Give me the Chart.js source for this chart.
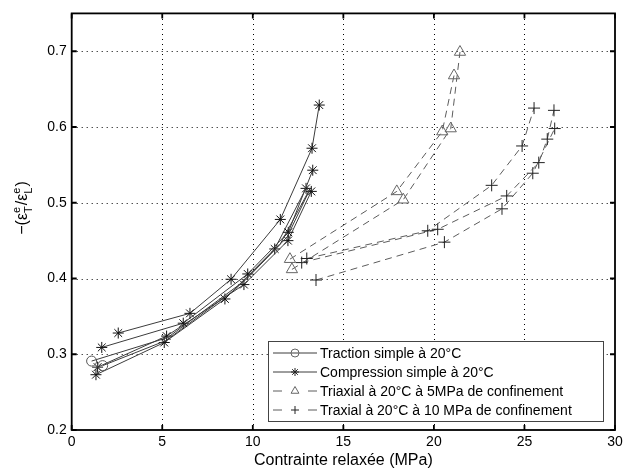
<!DOCTYPE html>
<html>
<head>
<meta charset="utf-8">
<script src="https://cdn.jsdelivr.net/npm/chart.js@4"></script>
<style>
  body { margin: 0; background: #fff; }
  #wrap { width: 632px; height: 472px; }
</style>
</head>
<body>
<div id="wrap"><canvas id="ratioChart" width="632" height="472"></canvas></div>
<script>
const xTicks = [0, 5, 10, 15, 20, 25, 30];
const yTicks = [0.2, 0.3, 0.4, 0.5, 0.6, 0.7];

const seriesNames = [
    "Traction simple à 20°C",
    "Compression simple à 20°C",
    "Triaxial à 20°C à 5MPa de confinement",
    "Traxial à 20°C à 10 MPa de confinement"
];

// traction simple (circles)
const tractionX1 = [1.10, 5.30, 9.60, 11.90, 13.16];
const tractionY1 = [0.291, 0.322, 0.398, 0.455, 0.518];
const tractionX2 = [1.71, 5.20, 9.00, 11.50, 13.10];
const tractionY2 = [0.285, 0.318, 0.385, 0.445, 0.516];

// compression simple (stars)
const compX1 = [2.57, 6.53, 8.80, 11.52, 13.27, 13.67];
const compY1 = [0.328, 0.354, 0.399, 0.478, 0.572, 0.629];
const compX2 = [1.66, 6.16, 9.72, 11.96, 13.31];
const compY2 = [0.309, 0.341, 0.406, 0.461, 0.543];
const compX3 = [1.43, 5.24, 9.51, 11.94, 13.23];
const compY3 = [0.283, 0.324, 0.392, 0.450, 0.515];
const compX4 = [1.34, 5.11, 8.46, 11.21, 12.94];
const compY4 = [0.273, 0.3155, 0.373, 0.439, 0.519];

// triaxial 5 MPa (triangles)
const tri5X1 = [12.05, 17.95, 20.46, 21.11];
const tri5Y1 = [0.4255, 0.515, 0.594, 0.668];
const tri5X2 = [12.16, 18.31, 20.93, 21.44];
const tri5Y2 = [0.412, 0.504, 0.598, 0.699];

// triaxial 10 MPa (plus)
const tri10X1 = [12.98, 19.66, 23.19, 24.87, 25.53];
const tri10Y1 = [0.4264, 0.463, 0.523, 0.575, 0.625];
const tri10X2 = [12.70, 20.21, 24.02, 25.79, 26.26, 26.63];
const tri10Y2 = [0.421, 0.465, 0.509, 0.553, 0.584, 0.622];
const tri10X3 = [13.49, 20.58, 23.76, 25.46, 26.67];
const tri10Y3 = [0.398, 0.448, 0.492, 0.539, 0.598];

function pts(xs, ys) {
    return xs.map((x, i) => ({ x: x, y: ys[i] }));
}

const solidColor = "#3c3c3c";
const dashColor = "#5c5c5c";

function tractionSet(xs, ys) {
    return {
        label: seriesNames[0],
        data: pts(xs, ys),
        borderColor: solidColor,
        borderWidth: 1,
        pointStyle: "circle",
        pointRadius: xs.map((x, i) => i === 0 ? 5 : 0),
        pointBorderColor: "#555",
        pointBackgroundColor: "rgba(0,0,0,0)",
        pointBorderWidth: 1
    };
}
function compSet(xs, ys) {
    return {
        label: seriesNames[1],
        data: pts(xs, ys),
        borderColor: solidColor,
        borderWidth: 1,
        pointStyle: "star",
        pointRadius: 5.5,
        pointBorderColor: "#111",
        pointBorderWidth: 1
    };
}
function tri5Set(xs, ys) {
    return {
        label: seriesNames[2],
        data: pts(xs, ys),
        borderColor: dashColor,
        borderWidth: 1,
        borderDash: [7, 5],
        pointStyle: "triangle",
        pointRadius: 6.5,
        pointBorderColor: "#666",
        pointBackgroundColor: "rgba(0,0,0,0)",
        pointBorderWidth: 1
    };
}
function tri10Set(xs, ys) {
    return {
        label: seriesNames[3],
        data: pts(xs, ys),
        borderColor: dashColor,
        borderWidth: 1,
        borderDash: [7, 5],
        pointStyle: "cross",
        pointRadius: 6,
        pointBorderColor: "#222",
        pointBorderWidth: 1
    };
}

const datasets = [
    tractionSet(tractionX1, tractionY1),
    tractionSet(tractionX2, tractionY2),
    compSet(compX1, compY1),
    compSet(compX2, compY2),
    compSet(compX3, compY3),
    compSet(compX4, compY4),
    tri5Set(tri5X1, tri5Y1),
    tri5Set(tri5X2, tri5Y2),
    tri10Set(tri10X1, tri10Y1),
    tri10Set(tri10X2, tri10Y2),
    tri10Set(tri10X3, tri10Y3)
];

function drawMarker(ctx, style, x, y, r) {
    ctx.beginPath();
    if (style === "circle") {
        ctx.arc(x, y, r, 0, Math.PI * 2);
    } else if (style === "star") {
        ctx.moveTo(x - r, y); ctx.lineTo(x + r, y);
        ctx.moveTo(x, y - r); ctx.lineTo(x, y + r);
        const d = r * 0.7;
        ctx.moveTo(x - d, y - d); ctx.lineTo(x + d, y + d);
        ctx.moveTo(x - d, y + d); ctx.lineTo(x + d, y - d);
    } else if (style === "triangle") {
        ctx.moveTo(x, y - r);
        ctx.lineTo(x + r * 0.87, y + r * 0.5);
        ctx.lineTo(x - r * 0.87, y + r * 0.5);
        ctx.closePath();
    } else if (style === "cross") {
        ctx.moveTo(x - r, y); ctx.lineTo(x + r, y);
        ctx.moveTo(x, y - r); ctx.lineTo(x, y + r);
    }
    ctx.stroke();
}

// dotted grid, frame, inward ticks, legend box and y title like the matlab figure
const matlabLook = {
    id: "matlabLook",
    beforeDatasetsDraw(chart) {
        const ctx = chart.ctx;
        const a = chart.chartArea;
        const xs = chart.scales.x, ys = chart.scales.y;
        ctx.save();
        ctx.strokeStyle = "#000";
        ctx.lineWidth = 1;
        ctx.setLineDash([1, 4]);
        ctx.beginPath();
        xTicks.slice(1, -1).forEach(v => {
            const px = Math.round(xs.getPixelForValue(v)) + 0.5;
            ctx.moveTo(px, a.bottom); ctx.lineTo(px, a.top);
        });
        yTicks.slice(1).forEach(v => {
            const py = Math.round(ys.getPixelForValue(v)) + 0.5;
            ctx.moveTo(a.left, py); ctx.lineTo(a.right, py);
        });
        ctx.stroke();
        ctx.restore();
    },
    afterDraw(chart) {
        const ctx = chart.ctx;
        const a = chart.chartArea;
        const xs = chart.scales.x, ys = chart.scales.y;
        ctx.save();

        // frame
        ctx.strokeStyle = "#000";
        ctx.lineWidth = 1.8;
        ctx.setLineDash([]);
        ctx.strokeRect(a.left, a.top, a.right - a.left, a.bottom - a.top);

        // inward ticks
        ctx.beginPath();
        xTicks.forEach(v => {
            const px = xs.getPixelForValue(v);
            ctx.moveTo(px, a.bottom); ctx.lineTo(px, a.bottom - 5);
            ctx.moveTo(px, a.top); ctx.lineTo(px, a.top + 5);
        });
        yTicks.forEach(v => {
            const py = ys.getPixelForValue(v);
            ctx.moveTo(a.left, py); ctx.lineTo(a.left + 5, py);
            ctx.moveTo(a.right, py); ctx.lineTo(a.right - 5, py);
        });
        ctx.stroke();

        // legend
        const bx = 268.5, by = 341.5, bw = 335, bh = 80;
        ctx.fillStyle = "#fff";
        ctx.fillRect(bx, by, bw, bh);
        ctx.strokeStyle = "#444";
        ctx.lineWidth = 1;
        ctx.strokeRect(bx, by, bw, bh);

        const rows = [353, 372, 391, 410];
        const styles = ["circle", "star", "triangle", "cross"];
        ctx.font = "14px 'Liberation Sans', Arial, sans-serif";
        ctx.textBaseline = "middle";
        ctx.textAlign = "left";
        rows.forEach((ry, i) => {
            ctx.strokeStyle = i < 2 ? solidColor : dashColor;
            ctx.lineWidth = 1;
            ctx.beginPath();
            if (i < 2) {
                ctx.moveTo(273, ry); ctx.lineTo(317, ry);
            } else {
                ctx.moveTo(273, ry); ctx.lineTo(282, ry);
                ctx.moveTo(308, ry); ctx.lineTo(317, ry);
            }
            ctx.stroke();
            ctx.strokeStyle = i === 0 || i === 2 ? "#666" : "#222";
            drawMarker(ctx, styles[i], 295, ry, i === 2 ? 4.5 : 4);
            ctx.fillStyle = "#000";
            ctx.fillText(seriesNames[i], 320, ry + 1);
        });

        // y title  -(eps_T^e / eps_L^e)
        ctx.translate(22, 208);
        ctx.rotate(-Math.PI / 2);
        ctx.fillStyle = "#000";
        ctx.textBaseline = "alphabetic";
        const big = "16px 'Liberation Sans', Arial, sans-serif";
        const small = "11px 'Liberation Sans', Arial, sans-serif";
        const parts = [
            { t: "\u2212(\u03b5", f: big },
            { sup: "e", sub: "T" },
            { t: "/\u03b5", f: big },
            { sup: "e", sub: "L" },
            { t: ")", f: big }
        ];
        let total = 0;
        parts.forEach(p => {
            if (p.t) { ctx.font = p.f; p.w = ctx.measureText(p.t).width; }
            else {
                ctx.font = small;
                p.w = Math.max(ctx.measureText(p.sup).width, ctx.measureText(p.sub).width) + 1;
            }
            total += p.w;
        });
        let cx = -total / 2;
        parts.forEach(p => {
            if (p.t) {
                ctx.font = p.f;
                ctx.fillText(p.t, cx, 5);
            } else {
                ctx.font = small;
                ctx.fillText(p.sup, cx, -2);
                ctx.fillText(p.sub, cx, 10);
            }
            cx += p.w;
        });
        ctx.restore();
    }
};

Chart.defaults.font.family = "'Liberation Sans', Arial, sans-serif";
Chart.defaults.color = "#000";

new Chart(document.getElementById("ratioChart").getContext("2d"), {
    type: "scatter",
    data: { datasets: datasets },
    options: {
        responsive: false,
        animation: false,
        showLine: true,
        layout: { padding: { top: 4.7, right: 17, left: 0, bottom: 0 } },
        elements: { line: { tension: 0 } },
        plugins: {
            legend: { display: false },
            tooltip: { enabled: false }
        },
        scales: {
            x: {
                type: "linear",
                min: 0,
                max: 30,
                afterBuildTicks: s => { s.ticks = xTicks.map(v => ({ value: v })); },
                afterFit: s => { s.height = 42; },
                grid: { display: false, drawTicks: false },
                border: { display: false },
                ticks: { color: "#000", font: { size: 14 }, padding: 4, maxRotation: 0 },
                title: {
                    display: true,
                    text: "Contrainte relaxée (MPa)",
                    color: "#000",
                    font: { size: 16 },
                    padding: { top: 0, bottom: 2 }
                }
            },
            y: {
                type: "linear",
                min: 0.2,
                max: 0.75,
                afterBuildTicks: s => { s.ticks = yTicks.map(v => ({ value: v })); },
                afterFit: s => { s.width = 71.7; },
                grid: { display: false, drawTicks: false },
                border: { display: false },
                ticks: {
                    color: "#000",
                    font: { size: 14 },
                    padding: 5,
                    callback: v => v.toFixed(1)
                }
            }
        }
    },
    plugins: [matlabLook]
});
</script>
</body>
</html>
